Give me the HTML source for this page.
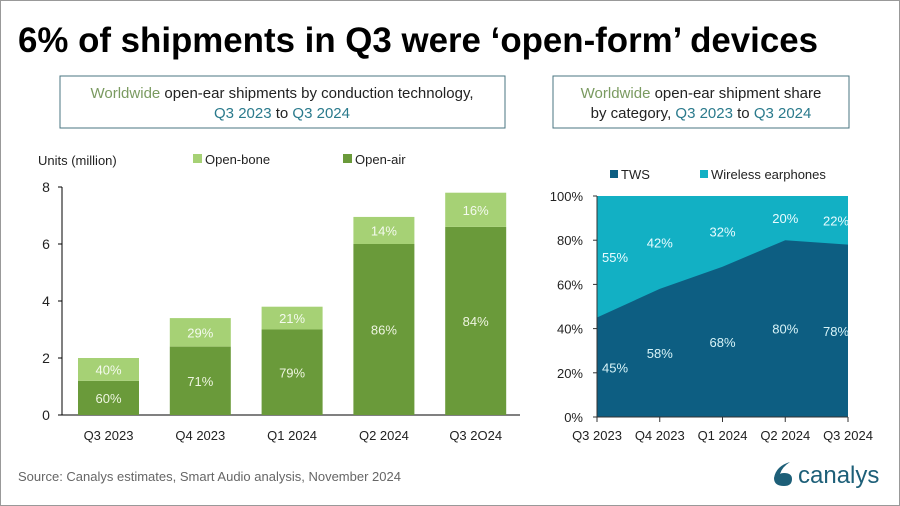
<!DOCTYPE html>
<html><head><meta charset="utf-8"><style>
body{margin:0;width:900px;height:506px;overflow:hidden;background:#fff;font-family:"Liberation Sans",sans-serif}
svg{display:block}
</style></head><body>
<svg width="900" height="506" viewBox="0 0 900 506">
<rect x="0.5" y="0.5" width="899" height="505" fill="#fff" stroke="#999"/>
<text x="18" y="52" font-size="35" font-weight="bold" fill="#000" textLength="800" lengthAdjust="spacingAndGlyphs">6% of shipments in Q3 were ‘open-form’ devices</text>
<rect x="60" y="76" width="445" height="52" fill="#fff" stroke="#4a7480"/>
<text x="282" y="98" font-size="15" text-anchor="middle" fill="#222"><tspan fill="#7a9a60">Worldwide</tspan> open-ear shipments by conduction technology,</text>
<text x="282" y="118" font-size="15" text-anchor="middle" fill="#222"><tspan fill="#2a7a8c">Q3 2023</tspan> to <tspan fill="#2a7a8c">Q3 2024</tspan></text>
<rect x="553" y="76" width="296" height="52" fill="#fff" stroke="#4a7480"/>
<text x="701" y="98" font-size="15" text-anchor="middle" fill="#222"><tspan fill="#7a9a60">Worldwide</tspan> open-ear shipment share</text>
<text x="701" y="118" font-size="15" text-anchor="middle" fill="#222">by category, <tspan fill="#2a7a8c">Q3 2023</tspan> to <tspan fill="#2a7a8c">Q3 2024</tspan></text>
<g id="left"></g>
<g id="right"></g>
<text x="18" y="481" font-size="13" fill="#666">Source: Canalys estimates, Smart Audio analysis, November 2024</text>
<g>
<path d="M790 462 q-14 4 -16 16 q0 8 10 8 q8 0 8 -7 q0 -6 -8 -6 q-3 0 -4 1 q2 -7 10 -12z" fill="#1d5f78"/>
<text x="798" y="483" font-size="24" fill="#1d5f78">canalys</text>
</g>
</svg>
<script>
const NS='http://www.w3.org/2000/svg';
function mk(p,t,a,txt){const e=document.createElementNS(NS,t);for(const k in a)e.setAttribute(k,a[k]);if(txt!==undefined)e.textContent=txt;p.appendChild(e);return e;}
// Left chart data
const barCats=['Q3 2023','Q4 2023','Q1 2024','Q2 2024','Q3 2O24'];
const openAir=[1.2,2.4,3.0,6.0,6.6];
const openBone=[0.8,1.0,0.8,0.95,1.2];
const airPct=['60%','71%','79%','86%','84%'];
const bonePct=['40%','29%','21%','14%','16%'];
const yTicks=[0,2,4,6,8];
// Right chart data
const areaCats=['Q3 2023','Q4 2023','Q1 2024','Q2 2024','Q3 2024'];
const tws=[45,58,68,80,78];
const wireless=[55,42,32,20,22];
const pTicks=[0,20,40,60,80,100];

const L=document.getElementById('left');
const ly=v=>415-v*28.5;
const lx=i=>78+i*91.8;
const bw=61;
mk(L,'line',{x1:62,y1:ly(8),x2:62,y2:415,stroke:'#000'});
mk(L,'line',{x1:58,y1:415,x2:520,y2:415,stroke:'#000'});
yTicks.forEach(t=>{
 mk(L,'line',{x1:58,y1:ly(t),x2:62,y2:ly(t),stroke:'#000'});
 const e=mk(L,'text',{x:46,y:ly(t)+5,'font-size':14,'text-anchor':'middle',fill:'#222'},String(t));
 
});
const ut=mk(L,'text',{x:38,y:165,'font-size':13,fill:'#222'},'Units (million)');

[['#a6d175','Open-bone',193],['#6a9a3a','Open-air',343]].forEach(([c,n,x])=>{
 const g=mk(L,'g',{});
 mk(g,'rect',{x:x,y:154,width:9,height:9,fill:c});
 mk(g,'text',{x:x+12,y:164,'font-size':13,fill:'#222'},n);
});
barCats.forEach((c,i)=>{
 const x=lx(i);
 const a=mk(L,'rect',{x:x,y:ly(openAir[i]),width:bw,height:415-ly(openAir[i]),fill:'#6a9a3a'});
 
 const top=openAir[i]+openBone[i];
 const b=mk(L,'rect',{x:x,y:ly(top),width:bw,height:ly(openAir[i])-ly(top),fill:'#a6d175'});
 
 mk(L,'text',{x:x+bw/2,y:(ly(0)+ly(openAir[i]))/2+5,'font-size':13,'text-anchor':'middle',fill:'#eef5e0'},airPct[i]);
 mk(L,'text',{x:x+bw/2,y:(ly(openAir[i])+ly(top))/2+5,'font-size':13,'text-anchor':'middle',fill:'#f4faee'},bonePct[i]);
 const t=mk(L,'text',{x:x+bw/2,y:440,'font-size':13,'text-anchor':'middle',fill:'#222'},c);
 
});

const R=document.getElementById('right');
const x0=597,x1=848;
const rx=i=>x0+i*(x1-x0)/(areaCats.length-1);
const ry=v=>417-v*2.21;
mk(R,'rect',{x:x0,y:ry(100),width:x1-x0,height:ry(0)-ry(100),fill:'#12b0c4'});
let d='M'+rx(0)+','+ry(0);
tws.forEach((v,i)=>d+=' L'+rx(i)+','+ry(v));
d+=' L'+rx(tws.length-1)+','+ry(0)+'Z';
const ar=mk(R,'path',{d:d,fill:'#0d5e82'});

mk(R,'line',{x1:x0,y1:ry(100),x2:x0,y2:ry(0),stroke:'#333'});
mk(R,'line',{x1:x0,y1:ry(0),x2:x1,y2:ry(0),stroke:'#333'});
pTicks.forEach(t=>{
 mk(R,'line',{x1:x0-4,y1:ry(t),x2:x0,y2:ry(t),stroke:'#333'});
 const e=mk(R,'text',{x:583,y:ry(t)+5,'font-size':13,'text-anchor':'end',fill:'#222'},t+'%');
 
});
areaCats.forEach((c,i)=>{
 mk(R,'line',{x1:rx(i),y1:ry(0),x2:rx(i),y2:ry(0)+5,stroke:'#333'});
 const t=mk(R,'text',{x:rx(i),y:440,'font-size':13,'text-anchor':'middle',fill:'#222'},c);
 
 const lxp=i==0?615:(i==4?836:rx(i));
 mk(R,'text',{x:lxp,y:ry(tws[i]*0.5)+5,'font-size':13,'text-anchor':'middle',fill:'#d8f4f8'},tws[i]+'%');
 mk(R,'text',{x:lxp,y:ry(tws[i]+wireless[i]*0.5)+5,'font-size':13,'text-anchor':'middle',fill:'#e8fbff'},wireless[i]+'%');
});
[['#0d5e82','TWS',610],['#12b0c4','Wireless earphones',700]].forEach(([c,n,x])=>{
 const g=mk(R,'g',{});
 mk(g,'rect',{x:x,y:170,width:8,height:8,fill:c});
 mk(g,'text',{x:x+11,y:179,'font-size':13,fill:'#222'},n);
});
</script>
</body></html>
